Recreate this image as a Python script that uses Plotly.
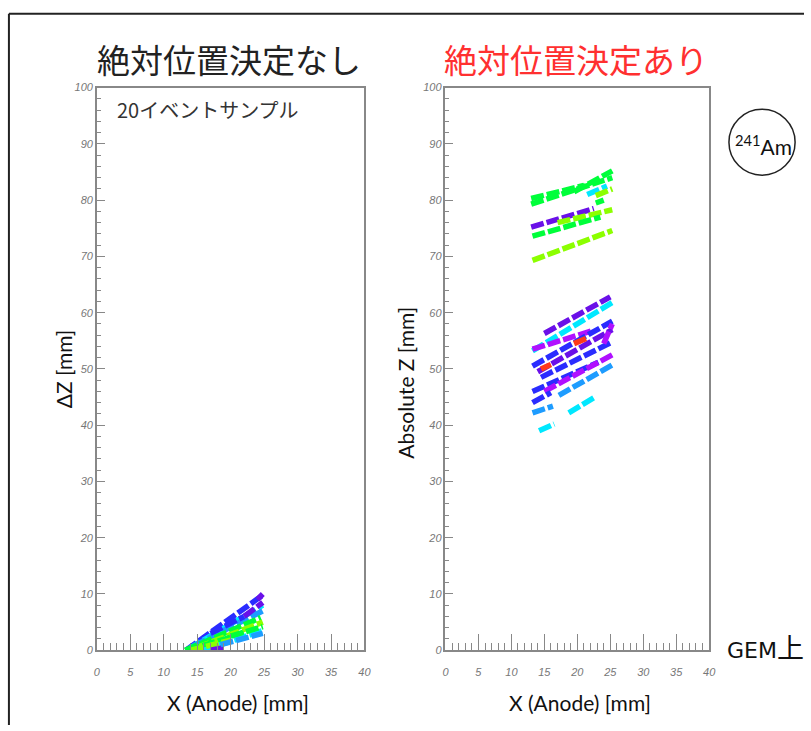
import plotly.graph_objects as go

# ---- track data: each track is a straight segment (x0,z0) -> (x1,z1) with a charge level ----
# relative depth (no absolute position fixed)
rel_x0 = [13.3, 13.8, 14.5, 13.2, 15.0, 13.5, 16.0, 14.0, 17.0, 20.0, 22.0, 24.0, 17.0, 18.5]
rel_z0 = [0.0, 0.3, 0.8, 0.0, 0.5, 0.0, 0.0, 0.0, 0.0, 2.5, 6.0, 9.0, 3.0, 1.0]
rel_x1 = [24.8, 24.8, 24.8, 24.5, 24.8, 22.0, 24.8, 20.0, 19.0, 24.8, 24.8, 24.8, 22.0, 24.8]
rel_z1 = [9.8, 8.0, 7.0, 5.8, 5.0, 3.0, 3.5, 1.8, 0.5, 4.2, 8.5, 10.0, 6.0, 3.0]
rel_level = [1, 3, 2, 4, 5, 4, 3, 5, 0, 4, 0, 0, 1, 2]

# absolute Z (position fixed)
abs_x0 = [13.0, 13.0, 19.5, 21.5, 22.8, 22.8, 13.0, 17.0, 13.2, 13.2,
          15.0, 13.2, 13.2, 13.2, 14.0, 19.5, 14.5, 14.5, 13.2, 15.0,
          17.2, 13.2, 13.2, 18.7, 14.2, 24.0]
abs_z0 = [79.3, 80.3, 81.5, 81.0, 80.8, 79.5, 75.2, 76.0, 73.6, 69.3,
          56.3, 53.2, 53.5, 50.5, 49.5, 54.5, 50.0, 48.5, 46.0, 46.0,
          45.3, 44.0, 42.2, 42.2, 39.0, 54.5]
abs_x1 = [25.3, 21.0, 25.3, 24.5, 25.3, 24.0, 22.5, 25.3, 23.5, 25.3,
          25.0, 25.3, 22.3, 25.3, 25.3, 21.5, 16.0, 25.3, 23.2, 25.3,
          25.3, 16.0, 16.3, 22.8, 16.5, 25.3]
abs_z1 = [84.0, 82.6, 85.2, 82.5, 82.0, 80.0, 78.5, 78.3, 77.0, 74.6,
          62.8, 61.8, 56.8, 58.5, 57.0, 55.5, 50.8, 54.8, 51.2, 52.5,
          50.7, 45.8, 43.4, 45.1, 40.2, 58.0]
abs_level = [4, 4, 4, 3, 5, 4, 0, 5, 4, 5,
             0, 3, 7, 1, 0, 6, 6, 1, 1, 7,
             2, 1, 2, 3, 3, 7]

x_ticks = [0, 5, 10, 15, 20, 25, 30, 35, 40]
z_ticks = [0, 10, 20, 30, 40, 50, 60, 70, 80, 90, 100]

# charge-level colour scale (rainbow)
palette = ["#6a10e8", "#2a2cff", "#1e9cff", "#00e8ff", "#00ff3a", "#8cff00", "#ff3a1a", "#b010ff"]

W, H = 811, 731


def fx(p):
    return p / W


def fy(p):
    return 1 - p / H


fig = go.Figure()


def add_tracks(x0s, z0s, x1s, z1s, levels, xa, ya):
    for a, b, c, d, lv in zip(x0s, z0s, x1s, z1s, levels):
        fig.add_trace(go.Scatter(
            x=[a, c], y=[b, d], mode="lines", xaxis=xa, yaxis=ya,
            line=dict(color=palette[lv], width=5.5, dash="13px,3px"),
            showlegend=False, hoverinfo="skip"))


add_tracks(rel_x0, rel_z0, rel_x1, rel_z1, rel_level, "x", "y")
add_tracks(abs_x0, abs_z0, abs_x1, abs_z1, abs_level, "x2", "y2")

tickfont = dict(family="Liberation Sans", size=11, color="#777", style="italic")
common_x = dict(range=[0, 40], tickvals=x_ticks, ticks="inside", ticklen=16, tickwidth=1.2,
                tickcolor="#888", showline=True, linecolor="#888", linewidth=1.5, mirror=True,
                showgrid=False, zeroline=False, tickfont=tickfont, ticklabelstandoff=11,
                minor=dict(dtick=1, ticks="inside", ticklen=7, tickcolor="#888", tickwidth=1.2))
common_y = dict(range=[0, 100], tickvals=z_ticks, ticks="inside", ticklen=8, tickwidth=1.2,
                tickcolor="#888", showline=True, linecolor="#888", linewidth=1.5, mirror=True,
                showgrid=False, zeroline=False, tickfont=tickfont,
                minor=dict(dtick=2, ticks="inside", ticklen=4, tickcolor="#888", tickwidth=1.2))

ydom = [fy(655), fy(83)]
fig.update_layout(
    width=W, height=H, margin=dict(l=0, r=0, t=0, b=0),
    paper_bgcolor="white", plot_bgcolor="white",
    xaxis=dict(domain=[fx(95), fx(366)], anchor="y", **common_x),
    yaxis=dict(domain=ydom, anchor="x", **common_y),
    xaxis2=dict(domain=[fx(448), fx(715)], anchor="y2", **common_x),
    yaxis2=dict(domain=ydom, anchor="x2", **common_y),
)

jp = "Noto Sans CJK JP"
lat = "Lato"
ann = [
    dict(x=fx(229), y=fy(54), text="絶対位置決定なし", font=dict(family=jp, size=33, color="#222")),
    dict(x=fx(580), y=fy(54), text="絶対位置決定あり", font=dict(family=jp, size=33, color="#ff3030")),
    dict(x=fx(113), y=fy(105), text="20イベントサンプル", xanchor="left",
         font=dict(family=jp, size=20, color="#333")),
    dict(x=fx(238), y=fy(708), text="X (Anode) [mm]", font=dict(family=lat, size=21, color="#111")),
    dict(x=fx(584), y=fy(708), text="X (Anode) [mm]", font=dict(family=lat, size=21, color="#111")),
    dict(x=fx(62), y=fy(369), text="ΔZ [mm]", textangle=-90, font=dict(family=lat, size=21, color="#111")),
    dict(x=fx(408), y=fy(383), text="Absolute Z [mm]", textangle=-90,
         font=dict(family=lat, size=21, color="#111")),
    dict(x=fx(731), y=fy(651),
         text="<span style='font-family:DejaVu Sans;font-size:22px'>GEM</span>上",
         xanchor="left", font=dict(family=jp, size=27, color="#111")),
    dict(x=fx(770), y=fy(141), text="<sup>241</sup>Am", font=dict(family=lat, size=21, color="#111")),
]
for a in ann:
    a.setdefault("xref", "paper")
    a.setdefault("yref", "paper")
    a.setdefault("showarrow", False)
    a.setdefault("xanchor", "center")
    a.setdefault("yanchor", "middle")
    fig.add_annotation(**a)

shapes = [
    # outer frame (left and top edges)
    dict(type="line", xref="paper", yref="paper", x0=fx(6), x1=fx(6), y0=0, y1=fy(8),
         line=dict(color="#222", width=2)),
    dict(type="line", xref="paper", yref="paper", x0=fx(6), x1=1, y0=fy(8), y1=fy(8),
         line=dict(color="#222", width=2)),
    # source marker
    dict(type="circle", xref="paper", yref="paper", x0=fx(735), x1=fx(802), y0=fy(172), y1=fy(105),
         line=dict(color="#222", width=1.5)),
]
for s in shapes:
    fig.add_shape(**s)

fig.write_html("out.html")
